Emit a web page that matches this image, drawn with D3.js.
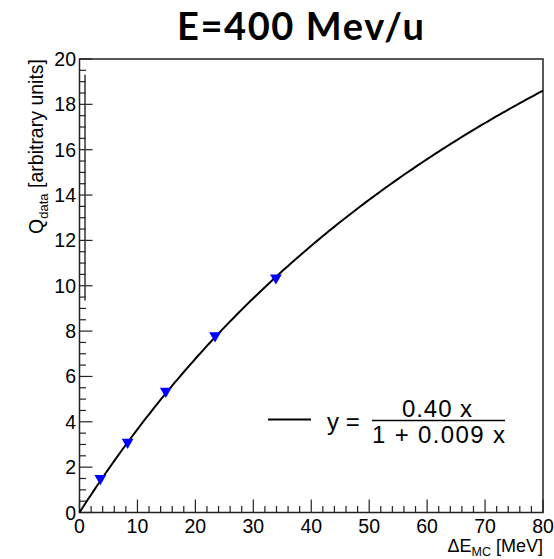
<!DOCTYPE html>
<html>
<head>
<meta charset="utf-8">
<script src="https://cdn.jsdelivr.net/npm/d3@7"></script>
<style>
  body { margin: 0; background: #fff; }
  .root-text { font-family: "Liberation Sans", Arial, sans-serif; }
  .title { font-family: Lato, "Open Sans", sans-serif; font-weight: bold; }
</style>
</head>
<body>
<div id="chart"></div>
<script>
/* DATA */
const pointsX = [3.6, 8.3, 14.9, 23.4, 33.9];
const pointsY = [1.5, 3.1, 5.35, 7.8, 10.35];
const fitA = 0.40, fitB = 0.009;
const xTicks = [0, 10, 20, 30, 40, 50, 60, 70, 80];
const yTicks = [0, 2, 4, 6, 8, 10, 12, 14, 16, 18, 20];
const title = "E=400 Mev/u";

/* CONSTANTS */
const width = 554, height = 559,
  margin = { top: 59, bottom: 46.5, left: 79.5, right: 11 };

const svg = d3.select("#chart").append("svg")
  .attr("width", width)
  .attr("height", height);

const xScale = d3.scaleLinear().domain([0, 80]).range([margin.left, width - margin.right]);
const yScale = d3.scaleLinear().domain([0, 20]).range([height - margin.bottom, margin.top]);

// frame
svg.append("rect")
  .attr("x", xScale(0)).attr("y", yScale(20))
  .attr("width", xScale(80) - xScale(0))
  .attr("height", yScale(0) - yScale(20))
  .attr("fill", "none").attr("stroke", "#222").attr("stroke-width", 1.5);

// x ticks (major + minor, inward)
const xMinor = d3.range(0, 80.01, 2);
svg.append("g").selectAll("line")
  .data(xMinor)
  .join("line")
  .attr("x1", d => xScale(d)).attr("x2", d => xScale(d))
  .attr("y1", yScale(0))
  .attr("y2", d => yScale(0) - (d % 10 === 0 ? 13 : 6.5))
  .attr("stroke", "#222").attr("stroke-width", 1.2);

svg.append("g").selectAll("text")
  .data(xTicks)
  .join("text")
  .attr("class", "root-text")
  .attr("x", d => xScale(d))
  .attr("y", yScale(0) + 20.5)
  .attr("text-anchor", "middle")
  .attr("font-size", 19.5)
  .text(d => d);

// y ticks
const yMinor = d3.range(0, 20.01, 0.5);
svg.append("g").selectAll("line")
  .data(yMinor)
  .join("line")
  .attr("y1", d => yScale(d)).attr("y2", d => yScale(d))
  .attr("x1", xScale(0))
  .attr("x2", d => xScale(0) + (d % 2 === 0 ? 13 : 6.5))
  .attr("stroke", "#222").attr("stroke-width", 1.2);

svg.append("g").selectAll("text")
  .data(yTicks)
  .join("text")
  .attr("class", "root-text")
  .attr("x", xScale(0) - 3.5)
  .attr("y", d => yScale(d))
  .attr("dy", "0.36em")
  .attr("text-anchor", "end")
  .attr("font-size", 19.5)
  .text(d => d);

// stray vertical line seen in the original
svg.append("line")
  .attr("x1", xScale(0.95)).attr("x2", xScale(0.95))
  .attr("y1", yScale(19.3)).attr("y2", yScale(9.35))
  .attr("stroke", "#333").attr("stroke-width", 1.5);

// fit curve
const curveX = d3.range(0, 80.01, 0.5);
const line = d3.line()
  .x(d => xScale(d))
  .y(d => yScale(fitA * d / (1 + fitB * d)));
svg.append("path")
  .datum(curveX)
  .attr("d", line)
  .attr("fill", "none")
  .attr("stroke", "#000")
  .attr("stroke-width", 2);

// markers
const tri = d3.symbol().type(d3.symbolTriangle).size(60);
svg.append("g").selectAll("path")
  .data(pointsX)
  .join("path")
  .attr("d", tri)
  .attr("transform", (d, i) => `translate(${xScale(d)},${yScale(pointsY[i])}) rotate(180)`)
  .attr("fill", "#0000ff");

// axis titles
const xt = svg.append("text")
  .attr("class", "root-text")
  .attr("x", xScale(80))
  .attr("y", 552)
  .attr("text-anchor", "end")
  .attr("font-size", 18);
xt.append("tspan").text("\u0394E");
xt.append("tspan").attr("font-size", 12.5).attr("dy", 4).text("MC");
xt.append("tspan").attr("dy", -4).text(" [MeV]");

const yt = svg.append("text")
  .attr("class", "root-text")
  .attr("transform", `translate(43,${yScale(20)}) rotate(-90)`)
  .attr("text-anchor", "end")
  .attr("font-size", 19.5);
yt.append("tspan").text("Q");
yt.append("tspan").attr("font-size", 13).attr("dy", 4.5).text("data");
yt.append("tspan").attr("dy", -4.5).text(" [arbitrary units]");

// legend
const lg = svg.append("g").attr("class", "root-text");
lg.append("line")
  .attr("x1", 268).attr("x2", 311)
  .attr("y1", 419.5).attr("y2", 419.5)
  .attr("stroke", "#000").attr("stroke-width", 2);
lg.append("text").attr("x", 327).attr("y", 430).attr("font-size", 24).text("y =");
lg.append("text").attr("x", 402).attr("y", 417).attr("font-size", 24)
  .attr("textLength", 70).text(`${fitA.toFixed(2)} x`);
lg.append("line")
  .attr("x1", 372).attr("x2", 505)
  .attr("y1", 420.5).attr("y2", 420.5)
  .attr("stroke", "#000").attr("stroke-width", 1.5);
lg.append("text").attr("x", 372).attr("y", 443).attr("font-size", 24)
  .attr("textLength", 133).text(`1 + ${fitB} x`);

// title
svg.append("text")
  .attr("class", "title")
  .attr("x", 177).attr("y", 40)
  .attr("font-size", 38)
  .attr("textLength", 247)
  .text(title);
</script>
</body>
</html>
